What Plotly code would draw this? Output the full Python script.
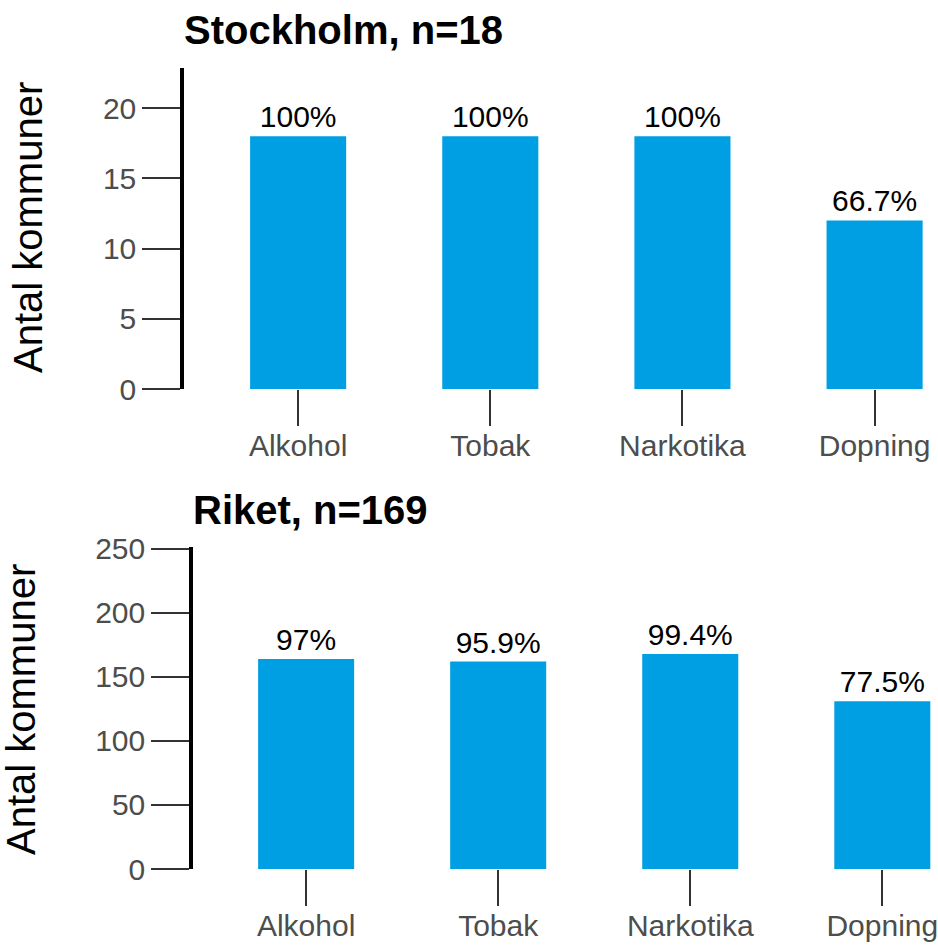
import plotly.graph_objects as go

categories = ["Alkohol", "Tobak", "Narkotika", "Dopning"]
sthlm_counts = [18, 18, 18, 12]
sthlm_labels = ["100%", "100%", "100%", "66.7%"]
riket_counts = [164, 162, 168, 131]
riket_labels = ["97%", "95.9%", "99.4%", "77.5%"]
sthlm_ticks = [0, 5, 10, 15, 20]
riket_ticks = [0, 50, 100, 150, 200, 250]

W, H = 938, 946
BAR = "#009FE3"
FONT = "Liberation Sans, Arial, sans-serif"

fig = go.Figure()
fig.add_trace(go.Bar(x=categories, y=sthlm_counts, text=sthlm_labels,
                     textposition="outside", cliponaxis=False, width=0.5,
                     marker=dict(color=BAR, line=dict(width=0)),
                     textfont=dict(size=30, color="black", family=FONT),
                     xaxis="x", yaxis="y", showlegend=False, hoverinfo="skip"))
fig.add_trace(go.Bar(x=categories, y=riket_counts, text=riket_labels,
                     textposition="outside", cliponaxis=False, width=0.5,
                     marker=dict(color=BAR, line=dict(width=0)),
                     textfont=dict(size=30, color="black", family=FONT),
                     xaxis="x2", yaxis="y2", showlegend=False, hoverinfo="skip"))

def px_y(p):
    return 1 - p / H

xcommon = dict(showline=False, showgrid=False, zeroline=False, ticks="outside",
               ticklen=36, tickwidth=1.5, tickcolor="#333333", automargin=False,
               ticklabelstandoff=-6,
               tickfont=dict(size=30, color="#4D4D4D", family=FONT))
ycommon = dict(showline=True, linewidth=3.5, linecolor="black", showgrid=False,
               zeroline=False, ticks="outside", ticklen=38, tickwidth=1.5,
               tickcolor="#333333", automargin=False,
               tickfont=dict(size=30, color="#4D4D4D", family=FONT))

fig.update_layout(
    template="none",
    width=W, height=H, margin=dict(l=0, r=0, t=0, b=0, pad=0),
    paper_bgcolor="white", plot_bgcolor="white",
    font=dict(family=FONT),
    bargap=0.5,
    xaxis=dict(domain=[184 / W, 1], anchor="y", range=[-0.594, 3.33], **xcommon),
    yaxis=dict(domain=[px_y(389), px_y(68)], anchor="x", range=[0, 22.85],
               tickvals=sthlm_ticks, **ycommon),
    xaxis2=dict(domain=[193 / W, 1], anchor="y2", range=[-0.589, 3.29], **xcommon),
    yaxis2=dict(domain=[px_y(869), px_y(547)], anchor="x2", range=[0, 251.5],
                tickvals=riket_ticks, **ycommon),
    annotations=[
        dict(text="<b>Stockholm, n=18</b>", x=182 / W, y=px_y(30), xref="paper", yref="paper",
             xanchor="left", yanchor="middle", showarrow=False,
             font=dict(size=40, color="black", family=FONT)),
        dict(text="<b>Riket, n=169</b>", x=191 / W, y=px_y(510), xref="paper", yref="paper",
             xanchor="left", yanchor="middle", showarrow=False,
             font=dict(size=40, color="black", family=FONT)),
        dict(text="Antal kommuner", x=28 / W, y=px_y(228), xref="paper", yref="paper",
             xanchor="center", yanchor="middle", textangle=-90, showarrow=False,
             font=dict(size=40, color="black", family=FONT)),
        dict(text="Antal kommuner", x=21 / W, y=px_y(710), xref="paper", yref="paper",
             xanchor="center", yanchor="middle", textangle=-90, showarrow=False,
             font=dict(size=40, color="black", family=FONT)),
    ],
)

fig.write_html("out.html", config={"displayModeBar": False},
               post_script="document.body.style.margin='0';document.body.style.overflow='hidden';")
